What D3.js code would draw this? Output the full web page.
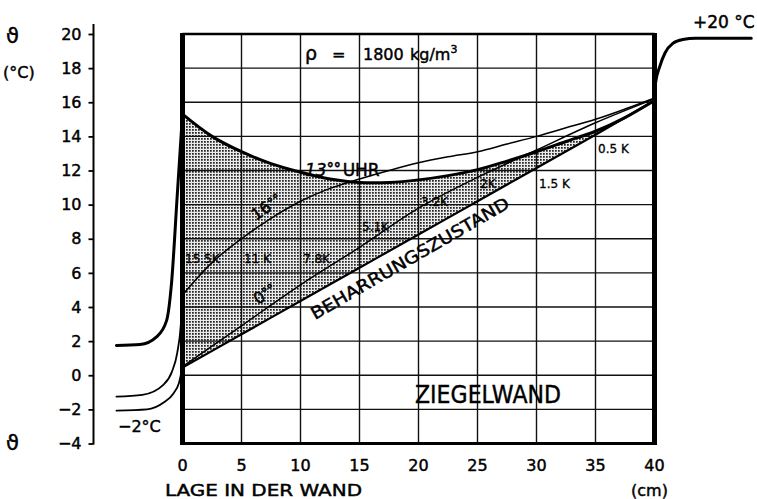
<!DOCTYPE html>
<html><head><meta charset="utf-8">
<script src="https://cdn.jsdelivr.net/npm/d3@7"></script>
<style>
html,body{margin:0;padding:0;background:#fff;}
svg{display:block;font-family:"DejaVu Sans",sans-serif;}
svg text{fill:#000;stroke:#000;stroke-width:0.45px;}
svg text.small{stroke-width:0.3px;}
</style></head>
<body>
<svg id="chart" width="757" height="499"></svg>
<script>
// ---- data ----
const yTicks = [-4,-2,0,2,4,6,8,10,12,14,16,18,20];
const xTicks = [0,5,10,15,20,25,30,35,40];
const gridT = [-2,0,2,4,6,8,10,12,14,16,18];
const gridX = [5,10,15,20,25,30,35];

// inside the wall (x in cm, temperature in °C)
const xInner = [0,2.5,5,7.5,10,12.5,15,17.5,20,22.5,25,27.5,30,32.5,35,37.5,40];
const temp13h = [15.3,14.0,13.1,12.4,11.9,11.5,11.3,11.3,11.45,11.7,12.05,12.55,13.1,13.7,14.3,15.1,16.1];
const temp16h = [4.7,6.6,8.0,9.2,10.2,10.95,11.5,12.0,12.45,12.8,13.1,13.55,14.0,14.5,15.0,15.6,16.25];
const xCoarse = [0,5,10,15,20,25,30,35,40];
const temp0h = [0.5,2.9,5.3,7.5,9.8,11.6,13.2,14.8,16.2];
const tempSteady = [0.45,2.4,4.35,6.3,8.25,10.2,12.15,14.1,16.1];

// outside air boundary layers
const xOut13 = [-5.6,-3.6,-2.2,-1.35,-0.93,-0.45,0];
const tOut13 = [1.75,1.8,2.25,3.2,5.4,10.5,15.3];
const xOut16 = [-5.6,-3.4,-1.6,-0.9,-0.45,-0.15,0];
const tOut16 = [-1.25,-1.15,-0.55,0.2,1.3,2.9,4.7];
const xOut0 = [-5.6,-3.0,-1.6,-0.75,-0.3,0];
const tOut0 = [-2.07,-2.0,-1.6,-1.05,-0.45,0.5];
const xRight = [40,40.08,40.45,40.9,41.55,42.4,43.5,48.2];
const tRight = [16.1,17.1,18.1,18.9,19.45,19.68,19.75,19.75];

// amplitude labels
const ampX = [0,5,10,15,20,25,30,35];
const ampLabels = ["15.5K","11 K","7.8K","5.1K","3.2K","2K","1.5 K","0.5 K"];
const ampT = [6.55,6.55,6.6,8.45,9.9,11.0,11.0,13.05];

// ---- drawing ----
const svg = d3.select("#chart");
const x = d3.scaleLinear().domain([0,40]).range([182.5,654.5]);
const y = d3.scaleLinear().domain([-4,20]).range([443.5,34]);
const zip = (xs,ts) => xs.map((v,i)=>[v,ts[i]]);

const defs = svg.append("defs");
const pat = defs.append("pattern").attr("id","dots").attr("patternUnits","userSpaceOnUse")
  .attr("width",3).attr("height",3);
pat.append("rect").attr("width",3).attr("height",3).attr("fill","#ebebeb");
pat.append("rect").attr("width",1.75).attr("height",1.75).attr("fill","#262626");

const lineSmooth = d3.line().x(d=>x(d[0])).y(d=>y(d[1])).curve(d3.curveCatmullRom.alpha(0.5));
const lineMono = d3.line().x(d=>x(d[0])).y(d=>y(d[1])).curve(d3.curveMonotoneX);

// shaded band between 13h envelope and steady state
const p13 = zip(xInner,temp13h);
const pSt = zip(xCoarse,tempSteady);
const bandD = lineSmooth(p13) + "L" + pSt.slice().reverse().map(d=>x(d[0])+","+y(d[1])).join("L") + "Z";
svg.append("path").attr("d",bandD).attr("fill","url(#dots)").attr("stroke","none");

// grid
const g = svg.append("g").attr("stroke","#111").attr("stroke-width",1.4);
g.selectAll(".h").data(gridT).join("line")
  .attr("x1",x(0)).attr("x2",x(40)).attr("y1",d=>y(d)).attr("y2",d=>y(d));
g.selectAll(".v").data(gridX).join("line")
  .attr("y1",y(-4)).attr("y2",y(20)).attr("x1",d=>x(d)).attr("x2",d=>x(d));
// box
svg.append("line").attr("x1",x(0)).attr("x2",x(40)).attr("y1",y(20)).attr("y2",y(20)).attr("stroke","#000").attr("stroke-width",2.6);
svg.append("line").attr("x1",x(0)-2).attr("x2",x(40)+2).attr("y1",y(-4)).attr("y2",y(-4)).attr("stroke","#000").attr("stroke-width",3.2);
svg.append("line").attr("x1",x(0)).attr("x2",x(0)).attr("y1",y(20)-1).attr("y2",y(-4)+1.5).attr("stroke","#000").attr("stroke-width",5);
svg.append("line").attr("x1",x(40)).attr("x2",x(40)).attr("y1",y(20)-1).attr("y2",y(-4)+1.5).attr("stroke","#000").attr("stroke-width",5);

// curves
const curves = svg.append("g").attr("fill","none").attr("stroke","#000").attr("stroke-linecap","round").attr("stroke-linejoin","round");
curves.append("path").attr("d",lineSmooth(zip(xCoarse,tempSteady))).attr("stroke-width",2.2);
curves.append("path").attr("d",lineSmooth(zip(xCoarse,temp0h))).attr("stroke-width",1.5);
curves.append("path").attr("d",lineSmooth(zip(xInner,temp16h))).attr("stroke-width",1.5);
curves.append("path").attr("d",lineSmooth(p13)).attr("stroke-width",3);
curves.append("path").attr("d",lineMono(zip(xOut13,tOut13))).attr("stroke-width",3);
curves.append("path").attr("d",lineMono(zip(xOut16,tOut16))).attr("stroke-width",1.8);
curves.append("path").attr("d",lineMono(zip(xOut0,tOut0))).attr("stroke-width",1.8);
curves.append("path").attr("d",lineMono(zip(xRight,tRight))).attr("stroke-width",3);

// y axis
const axX = 93.5;
const yAxis = d3.axisLeft(y).tickValues(yTicks).tickSize(5).tickPadding(7)
  .tickFormat(d => d<0 ? "\u2212"+Math.abs(d) : String(d));
const ya = svg.append("g").attr("transform",`translate(${axX},0)`).call(yAxis);
ya.select(".domain").remove();
ya.selectAll(".tick line").attr("stroke","#000").attr("stroke-width",1.8);
ya.selectAll(".tick text").attr("font-size",16).attr("font-family","DejaVu Sans").attr("fill","#000");
svg.append("line").attr("x1",axX).attr("x2",axX).attr("y1",24).attr("y2",y(-4)+1).attr("stroke","#000").attr("stroke-width",2);

// x tick labels
svg.append("g").selectAll("text").data(xTicks).join("text")
  .attr("x",d=>x(d)).attr("y",471).attr("text-anchor","middle")
  .attr("font-size",16).text(d=>d);

// texts
const T = (txt,xx,yy,fs,extra) => {
  const t = svg.append("text").attr("x",xx).attr("y",yy).attr("font-size",fs).text(txt);
  if (extra) extra(t);
  return t;
};
T("\u03D1",6,43,21);
T("(°C)",3,78,16);
T("\u03D1",6,450,21);
T("LAGE IN DER WAND",165,496,16,t=>t.attr("textLength",197).attr("lengthAdjust","spacingAndGlyphs"));
T("(cm)",631,496,16);
T("+20 °C",693,28,17);
T("\u22122°C",118,432,16);
T("\u03C1",305,60,19);
T("=",332,60,16);
T("1800",363,60,16);
const km = T("kg/m",410,60,16);
km.append("tspan").attr("dy",-7).attr("font-size",11).text("3");
T("ZIEGELWAND",415,403,25,t=>t.attr("textLength",146).attr("lengthAdjust","spacingAndGlyphs"));

const t13 = T("13",305,176,17,t=>t.attr("font-style","italic"));
t13.append("tspan").attr("dy",-3).attr("font-size",14).attr("font-weight","bold").text("\u00B0\u00B0");
t13.append("tspan").attr("dy",3).attr("dx",2).attr("font-style","normal").text("UHR");

svg.append("text").attr("transform","translate(256,221) rotate(-35)").attr("font-size",16)
  .text("16").append("tspan").attr("font-size",13).attr("font-weight","bold").attr("dy",-2).text("\u00B0\u00B0");
svg.append("text").attr("transform","translate(258,305) rotate(-33)").attr("font-size",16)
  .text("0").append("tspan").attr("font-size",13).attr("font-weight","bold").attr("dy",-2).text("\u00B0\u00B0");

svg.append("text").attr("transform","translate(315,320) rotate(-30)").attr("font-size",17)
  .attr("textLength",226).attr("lengthAdjust","spacingAndGlyphs").text("BEHARRUNGSZUSTAND");

svg.append("g").selectAll("text").data(ampLabels).join("text")
  .attr("class","small")
  .attr("x",(d,i)=>x(ampX[i])+2.5).attr("y",(d,i)=>y(ampT[i]))
  .attr("font-size",12).text(d=>d);
</script>
</body></html>
